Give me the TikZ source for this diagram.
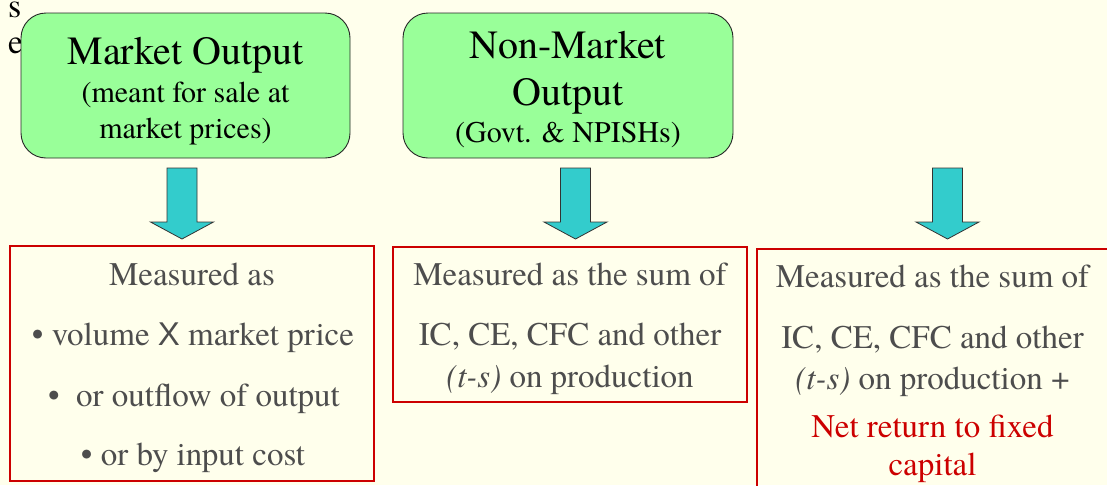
\documentclass[tikz,border=0pt]{standalone}
\usepackage{fontspec}
\setmainfont{texgyretermes}[Extension=.otf, UprightFont=*-regular,
  ItalicFont=*-italic, BoldFont=*-bold, BoldItalicFont=*-bolditalic]
\newfontfamily\xsans{Liberation Sans}
\definecolor{slidebg}{RGB}{255,255,236}
\definecolor{boxgreen}{RGB}{153,255,153}
\definecolor{arrowteal}{RGB}{51,204,204}
\definecolor{framered}{RGB}{204,0,0}
\definecolor{bodygray}{RGB}{77,77,77}
\definecolor{notered}{RGB}{204,0,0}

\begin{document}
\begin{tikzpicture}[x=1pt,y=-1pt,
  greenbox/.style={draw=black!85, line width=0.9pt, fill=boxgreen,
    rounded corners=25pt, inner sep=0pt},
  redframe/.style={draw=framered, line width=1.2pt, inner sep=0pt},
  title/.style={anchor=base, font=\fontsize{40}{48}\selectfont, text=black, inner sep=0pt},
  subtitle/.style={anchor=base, font=\fontsize{30}{36}\selectfont, text=black, inner sep=0pt},
  body/.style={anchor=base, font=\fontsize{33}{40}\selectfont, text=bodygray, inner sep=0pt},
  note/.style={body, text=notered},
  stray/.style={anchor=base west, font=\fontsize{34}{40}\selectfont, text=black, inner sep=0pt},
  downarrow/.pic={
    \draw[draw=black!80, line width=0.8pt, fill=arrowteal, line join=miter]
      (-15,0) -- (15,0) -- (15,54) -- (31.5,54) -- (0,71)
      -- (-31.5,54) -- (-15,54) -- cycle;
  }]

% slide background and frame
\fill[slidebg] (0,0) rectangle (1107,485);
\useasboundingbox (0,0) rectangle (1107,485);
\clip (0,0) rectangle (1107,485);

% leftover letters of underlying slide text
\node[stray] (s1) at (8,17) {s};
\node[stray] (s2) at (8,53) {e};

% top boxes
\node[greenbox, minimum width=329pt, minimum height=145pt] (mkt) at (185.5,85.5) {};
\node[title] (mktT) at (185.5,64) {Market Output};
\node[subtitle] (mktS1) at (185.5,102) {(meant for sale at};
\node[subtitle] (mktS2) at (185.5,138) {market prices)};

\node[greenbox, minimum width=330pt, minimum height=145pt] (nmk) at (568,85.5) {};
\node[title] (nmkT1) at (568,58) {Non-Market};
\node[title] (nmkT2) at (568,105) {Output};
\node[subtitle] (nmkS) at (568,142) {(Govt. \& NPISHs)};

% block arrows
\pic (arr1) at (182,168) {downarrow};
\pic (arr2) at (575.5,168) {downarrow};
\pic (arr3) at (947.5,168) {downarrow};

% lower frames
\node[redframe, minimum width=364pt, minimum height=235pt] (m1) at (192,363.5) {};
\node[body] (m1a) at (192,285) {Measured as};
\node[body] (m1b) at (193,345) {\textbullet\ volume {\xsans X} market price};
\node[body] (m1c) at (194,406) {\textbullet\ \ or outflow of output};
\node[body] (m1d) at (193,465) {\textbullet\ or by input cost};

\node[redframe, minimum width=354pt, minimum height=155pt] (m2) at (570,324.5) {};
\node[body] (m2a) at (570,285) {Measured as the sum of};
\node[body] (m2b) at (570,345) {IC, CE, CFC and other};
\node[body] (m2c) at (570,387) {\textit{(t-s)} on production};

\node[redframe, minimum width=380pt, minimum height=260pt] (m3) at (947,379) {};
\node[body] (m3a) at (932.5,287) {Measured as the sum of};
\node[body] (m3b) at (932.5,348) {IC, CE, CFC and other};
\node[body] (m3c) at (932.5,389) {\textit{(t-s)} on production +};
\node[note] (m3d) at (932.5,437) {Net return to fixed};
\node[note] (m3e) at (932.5,475) {capital};
\end{tikzpicture}
\end{document}
